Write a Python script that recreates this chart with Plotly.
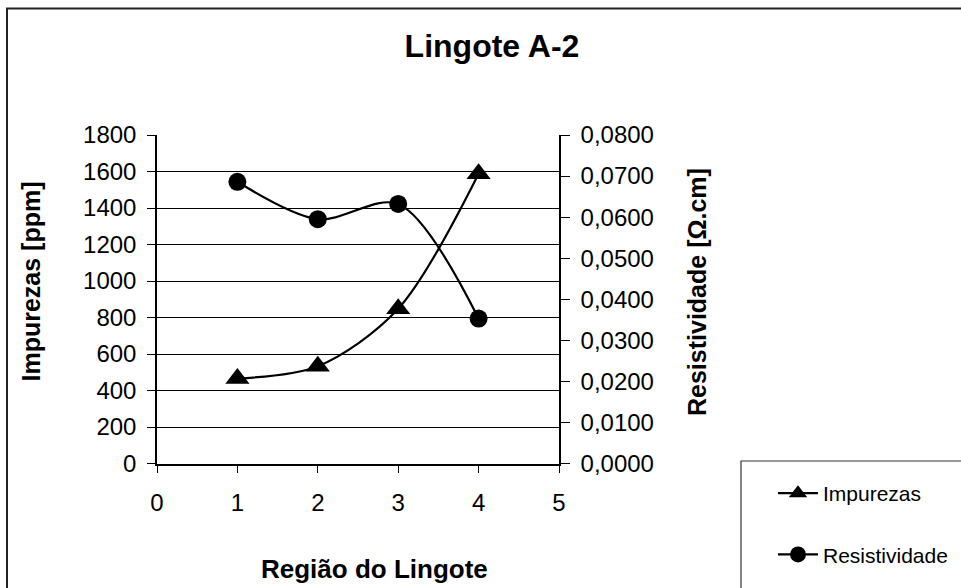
import plotly.graph_objects as go

regiao = [1, 2, 3, 4]
impurezas = [466, 533, 848, 1588]
resistividade = [0.0686, 0.0595, 0.0632, 0.0353]

W, H = 961, 588
FONT = "Liberation Sans, Arial, sans-serif"

def px(x):
    return x / W

def py(y):
    return 1 - y / H

fig = go.Figure()
fig.add_trace(go.Scatter(
    x=regiao, y=impurezas, name="Impurezas", mode="lines+markers",
    line=dict(color="black", width=2.2, shape="spline", smoothing=0.9),
    marker=dict(symbol="triangle-up", size=21, color="black"),
    legendgroup="a", yaxis="y",
))
fig.add_trace(go.Scatter(
    x=regiao, y=resistividade, name="Resistividade", mode="lines+markers",
    line=dict(color="black", width=2.2, shape="spline", smoothing=0.9),
    marker=dict(symbol="circle", size=18, color="black"),
    legendgroup="b", yaxis="y2",
))

fig.update_layout(
    width=W, height=H, autosize=False,
    margin=dict(l=0, r=0, t=0, b=0, pad=0, autoexpand=False),
    paper_bgcolor="white", plot_bgcolor="white",
    separators=",.",
    font=dict(family=FONT, size=24, color="black"),
    title=dict(text="<b>Lingote A-2</b>", x=px(492), xanchor="center",
               y=py(46), yanchor="middle", font=dict(size=32, family=FONT)),
    xaxis=dict(domain=[px(157), px(559)], range=[0, 5], dtick=1,
               ticks="outside", ticklen=8, tickcolor="black",
               showline=True, linecolor="black", linewidth=1.5,
               showgrid=False, zeroline=False, ticklabelstandoff=9),
    yaxis=dict(domain=[py(463.5), py(135)], range=[0, 1800], dtick=200,
               tickformat="d",
               ticks="outside", ticklen=8, tickcolor="black",
               showline=True, linecolor="black", linewidth=1.5,
               showgrid=True, gridcolor="black", gridwidth=1,
               zeroline=False, ticklabelstandoff=6),
    yaxis2=dict(overlaying="y", side="right", anchor="x",
                range=[0, 0.08], dtick=0.01, tickformat=".4f",
                ticks="outside", ticklen=9, tickcolor="black",
                showline=True, linecolor="black", linewidth=1.5,
                showgrid=False, zeroline=False, ticklabelstandoff=6),
    showlegend=True,
    legend=dict(x=px(773), y=py(473), xanchor="left", yanchor="top",
                bgcolor="rgba(0,0,0,0)", borderwidth=0,
                font=dict(size=21, family=FONT),
                tracegroupgap=31, traceorder="grouped", itemwidth=40),
    annotations=[
        dict(text="<b>Impurezas [ppm]</b>", x=px(31), y=py(281.5),
             xref="paper", yref="paper", textangle=-90, showarrow=False,
             xanchor="center", yanchor="middle",
             font=dict(size=25, family=FONT)),
        dict(text="<b>Resistividade [Ω.cm]</b>", x=px(697), y=py(292),
             xref="paper", yref="paper", textangle=-90, showarrow=False,
             xanchor="center", yanchor="middle",
             font=dict(size=25, family=FONT)),
        dict(text="<b>Região do Lingote</b>", x=px(374.5), y=py(569),
             xref="paper", yref="paper", showarrow=False,
             xanchor="center", yanchor="middle",
             font=dict(size=26, family=FONT)),
    ],
    shapes=[
        dict(type="rect", xref="paper", yref="paper",
             x0=px(7), x1=1.02, y0=-0.02, y1=py(8.5),
             line=dict(color="#222", width=2)),
        dict(type="rect", xref="paper", yref="paper",
             x0=px(741), x1=1.02, y0=-0.02, y1=py(461),
             line=dict(color="#333", width=1.2)),
    ],
)

fig.write_html("out.html")
